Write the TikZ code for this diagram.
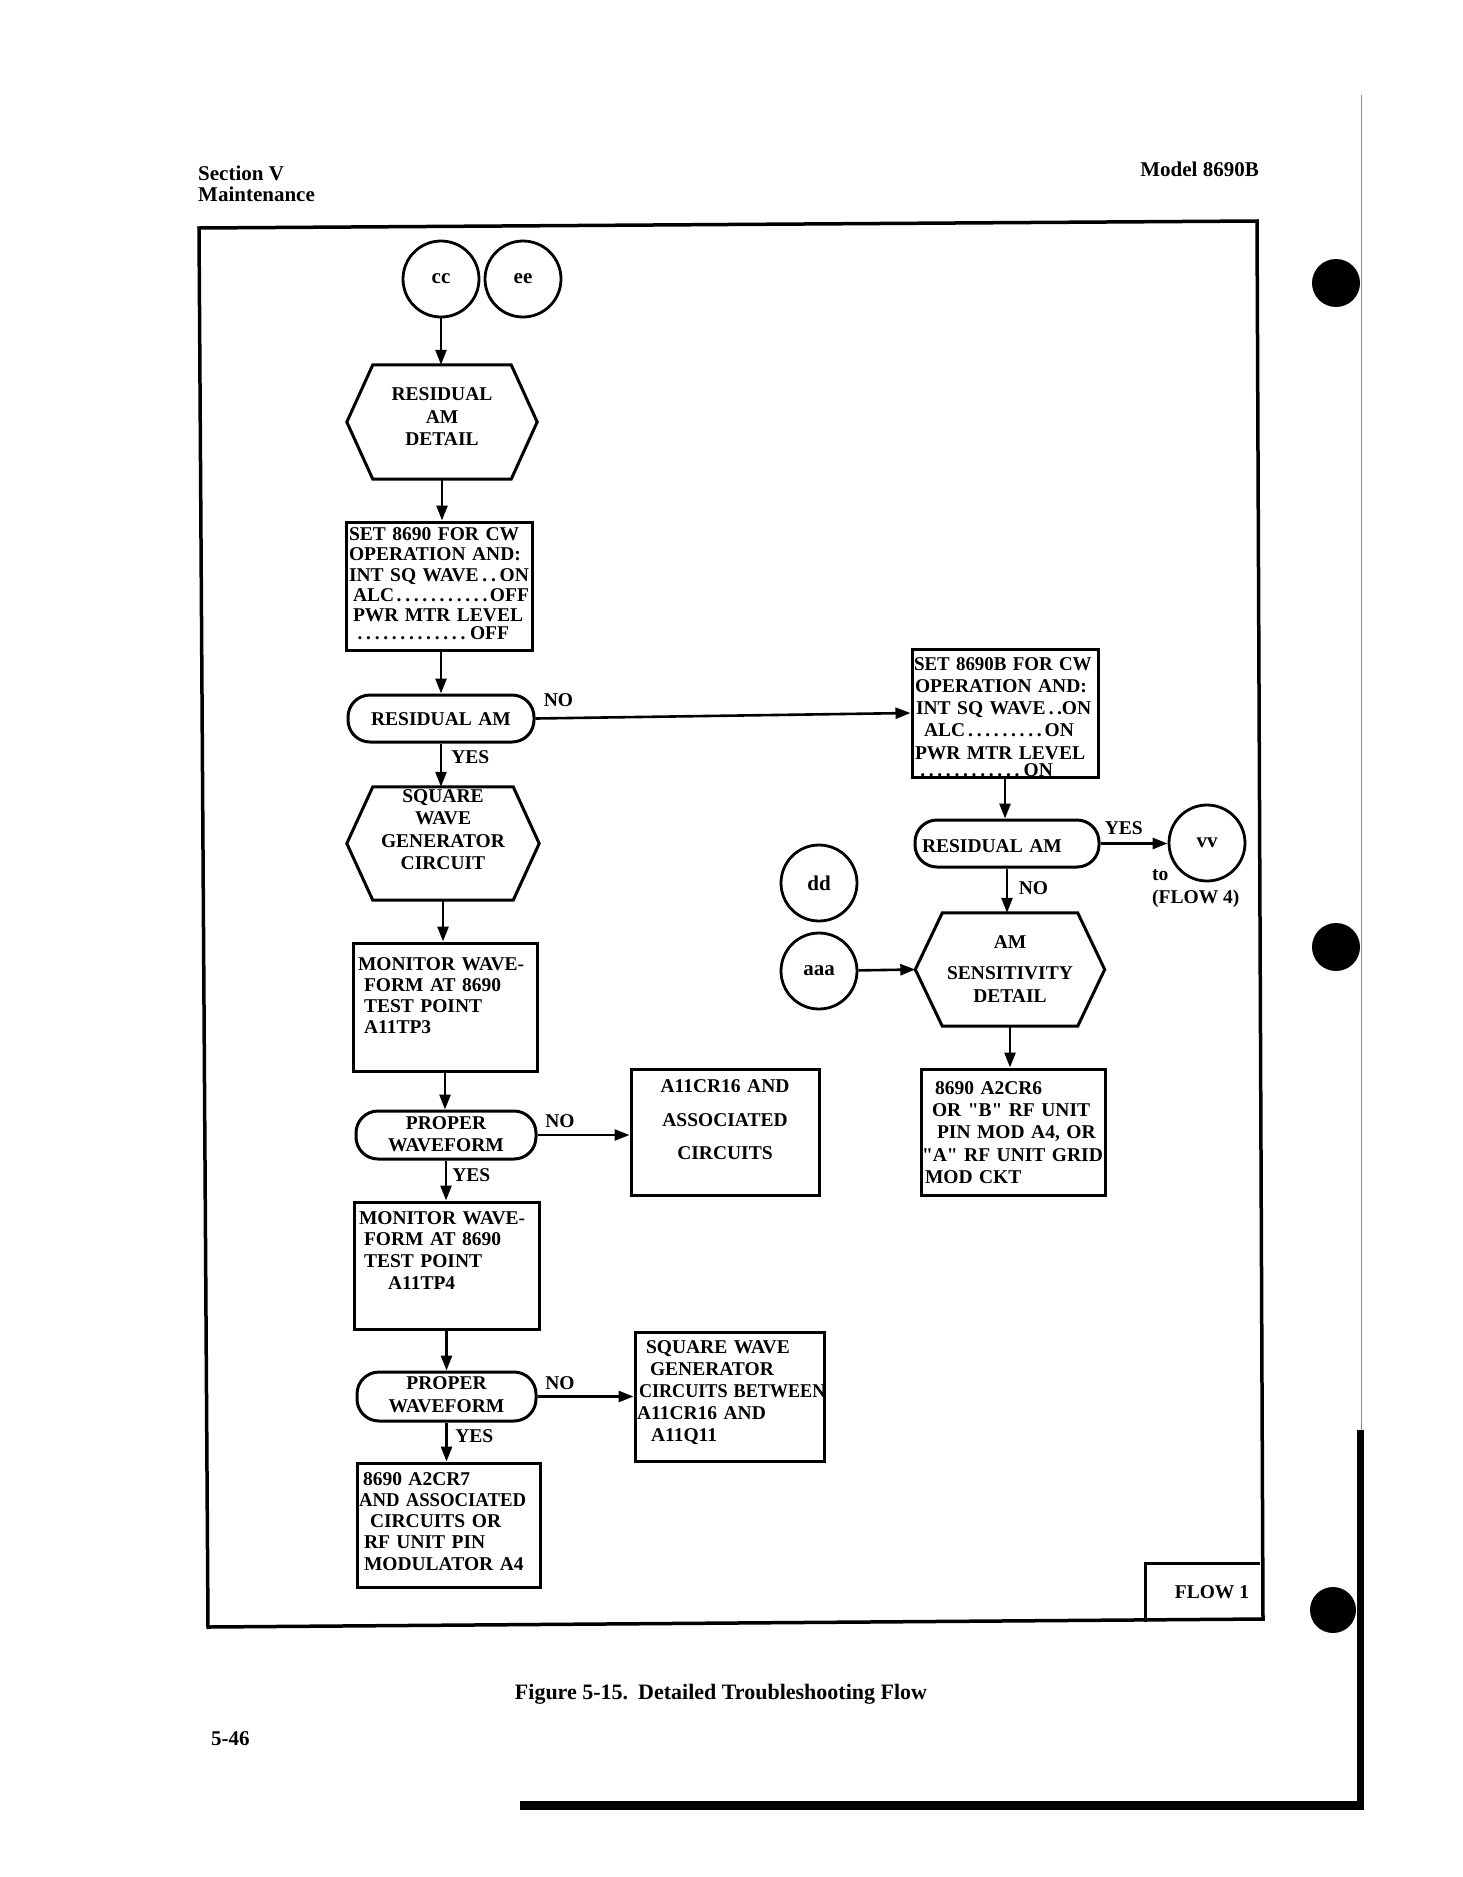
\documentclass[tikz,border=0pt]{standalone}
\usepackage{fontspec}
\setmainfont{Liberation Serif}[Ligatures=TeXOff]
\usepackage{graphicx}
\usetikzlibrary{arrows.meta}
\newcommand\dotsfill{\leavevmode\cleaders\hbox to .44em{\hss.\hss}\hskip0pt plus 1fill\relax}
\newcommand\sqz[2]{\mbox{\scalebox{#1}[1]{#2}}}
\newcommand\hexo[2]{\draw[line width=3pt] ([xshift=#2pt]#1.north west) -- ([xshift=-#2pt]#1.north east) -- (#1.east) -- ([xshift=-#2pt]#1.south east) -- ([xshift=#2pt]#1.south west) -- (#1.west) -- cycle;}
\hyphenpenalty=10000
\begin{document}
\begin{tikzpicture}[x=1pt,y=-1pt,
  fs/.style={font=\bfseries\fontsize{19.5}{#1}\selectfont},
  fs/.default=21,
  base/.style={inner sep=0pt, fs},
  bx/.style={base, draw, line width=3pt, rectangle, align=left},
  hx/.style={base, rectangle, align=center},
  tm/.style={base, draw, line width=3pt, rectangle, rounded corners=22pt, align=center},
  circ/.style={inner sep=0pt, font=\bfseries\fontsize{21}{24}\selectfont, draw, circle, line width=2.8pt, minimum size=76pt},
  geom/.style n args={4}{text width=#1pt, inner xsep=#2pt, text height=#3pt, text depth=#4pt},
  arr/.style={line width=2.6pt, -{Triangle[length=15pt,width=11pt]}},
  lab/.style={base, anchor=base west},
  hdr/.style={inner sep=0pt, font=\bfseries\fontsize{21}{24}\selectfont},
]
\useasboundingbox (0,0) rectangle (1463,1877);

% page frame and scan marks
\draw[line width=3.5pt] (199,228) -- (1257,221) -- (1263,1619) -- (208,1627) -- cycle;
\draw[line width=3pt] (1145,1622) -- (1145,1563) -- (1260,1563);
\fill (1336,283) circle[radius=24pt];
\fill (1336,947) circle[radius=24pt];
\fill (1333,1610) circle[radius=23pt];
\draw[line width=1pt, black!45] (1361,95) -- (1361,1430);
\draw[line width=7pt] (1360,1430) -- (1360,1810);
\draw[line width=9pt] (520,1805) -- (1363,1805);

% header / footer
\node[hdr, anchor=base west] (sec) at (198,180) {Section V};
\node[hdr, anchor=base west] (mnt) at (198,201) {Maintenance};
\node[hdr, anchor=base east] (mdl) at (1259,176) {Model 8690B};
\node[hdr, font=\bfseries\fontsize{22}{24}\selectfont, anchor=base] (cap) at (721,1699) {Figure 5-15.\hspace{10pt}Detailed Troubleshooting Flow};
\node[hdr, anchor=base west] (pg) at (211,1745) {5-46};
\node[base] (flow) at (1212,1592) {FLOW 1};

% left column
\node[circ] (cc) at (441,279) {cc};
\node[circ] (ee) at (523,279) {ee};
\node[hx, fs=22.7, geom={190}{0}{35.5}{78.5}] (h1) at (442,422) {RESIDUAL\\AM\\DETAIL};
\hexo{h1}{26}
\node[bx, fs=20.3, geom={180}{3}{18.5}{109.5}] (b1) at (439,586) {SET 8690 FOR CW\\
OPERATION AND:\\
INT SQ WAVE\dotsfill ON\mbox{}\\
\hspace*{4pt}ALC\dotsfill OFF\mbox{}\\
\hspace*{4pt}PWR MTR LEVEL\\[-3pt]
\hspace*{4pt}\dotsfill OFF\hspace*{20pt}\mbox{}};
\node[tm, geom={186}{0}{30}{17}] (t1) at (441,718.5) {RESIDUAL AM};
\node[hx, fs=22.3, geom={192}{0}{15.5}{97.5}] (h2) at (443,843.5) {SQUARE\\WAVE\\GENERATOR\\CIRCUIT};
\hexo{h2}{26}
\node[bx, fs=21, geom={174}{5}{27}{101}] (m3) at (445,1007) {MONITOR WAVE-\\
\hspace*{6pt}FORM AT 8690\\
\hspace*{6pt}TEST POINT\\
\hspace*{6pt}A11TP3};
\node[tm, fs=21.5, geom={180}{0}{18.5}{29.5}] (t2) at (446,1135) {PROPER\\WAVEFORM};
\node[bx, align=center, fs=33.5, geom={188}{0}{23.5}{102.5}] (c16) at (725,1132) {A11CR16 AND\\ASSOCIATED\\CIRCUITS};
\node[bx, fs=21.7, geom={175}{5}{22}{105}] (m4) at (446.5,1265.5) {MONITOR WAVE-\\
\hspace*{5pt}FORM AT 8690\\
\hspace*{5pt}TEST POINT\\
\hspace*{29pt}A11TP4};
\node[tm, fs=23, geom={179}{0}{17}{32}] (t3) at (446.5,1396.5) {PROPER\\WAVEFORM};
\node[bx, fs=22.2, geom={185}{2}{21}{108}] (sq) at (729.5,1396.5) {\hspace*{9pt}SQUARE WAVE\\
\hspace*{13pt}GENERATOR\\
\hspace*{2pt}\sqz{0.93}{CIRCUITS BETWEEN}\\
A11CR16 AND\\
\hspace*{14pt}A11Q11};
\node[bx, fs=21.3, geom={179}{2}{22}{102}] (a7) at (448.5,1525) {\hspace*{4pt}8690 A2CR7\\
\sqz{0.96}{AND ASSOCIATED}\\
\hspace*{11pt}CIRCUITS OR\\
\hspace*{5pt}RF UNIT PIN\\
\hspace*{5pt}MODULATOR A4};

% right column
\node[bx, fs=22.3, geom={182}{2}{21}{107}] (b2) at (1005,713) {\sqz{0.97}{SET 8690B FOR CW}\\
\hspace*{1pt}OPERATION AND:\\
\hspace*{2pt}INT SQ WAVE\,.\,.ON\\
\hspace*{10pt}ALC\dotsfill ON\hspace*{22pt}\mbox{}\\
\hspace*{1pt}PWR MTR LEVEL\\[-5pt]
\hspace*{2pt}\dotsfill ON\hspace*{43pt}\mbox{}};
\node[tm, align=left, geom={170}{7}{32}{15}] (t4) at (1007,843.5) {RESIDUAL AM};
\node[circ] (vv) at (1207,843) {vv};
\node[base, anchor=base west] (to) at (1152,880) {to};
\node[base, anchor=base west] (fl4) at (1152,903) {(FLOW 4)};
\node[hx, fs=23, geom={189}{0}{35.5}{77.5}] (h3) at (1010,969.5) {AM\\[8pt]SENSITIVITY\\DETAIL};
\hexo{h3}{27}
\node[circ] (dd) at (819,883) {dd};
\node[circ] (aaa) at (819,971) {aaa};
\node[bx, fs=22.1, geom={182}{1}{25.7}{100.3}] (a6) at (1013,1132) {\hspace*{13pt}8690 A2CR6\\
\hspace*{10pt}OR "B" RF UNIT\\
\hspace*{15pt}PIN MOD A4, OR\\
"A" RF UNIT GRID\\
\hspace*{3pt}MOD CKT};

% connectors
\draw[arr] (cc.south) -- (cc.south |- h1.north);
\draw[arr] (h1.south) -- (h1.south |- b1.north);
\draw[arr] (t1.north |- b1.south) -- (t1.north);
\draw[arr] (t1.south) -- node[lab, pos=0, xshift=9pt, yshift=-19.5pt] (y1) {YES} (t1.south |- h2.north);
\draw[arr] (h2.south) -- (h2.south |- m3.north);
\draw[arr] (m3.south) -- (m3.south |- t2.north);
\draw[arr] (t2.east) -- node[lab, pos=0, xshift=6.5pt, yshift=7.5pt] (n2) {NO} (t2.east -| c16.west);
\draw[arr] (t2.south) -- node[lab, pos=0, xshift=5pt, yshift=-20.5pt] (y2) {YES} (t2.south |- m4.north);
\draw[arr] (m4.south) -- (m4.south |- t3.north);
\draw[arr] (t3.east) -- node[lab, pos=0, xshift=6.5pt, yshift=7pt] (n3) {NO} (t3.east -| sq.west);
\draw[arr] (t3.south) -- node[lab, pos=0, xshift=7.5pt, yshift=-19.5pt] (y3) {YES} (t3.south |- a7.north);
\draw[arr] (t1.east) -- node[lab, pos=0, xshift=7pt, yshift=12pt] (n1) {NO} (b2.west);
\draw[arr] (b2.south) -- (b2.south |- t4.north);
\draw[arr] (t4.east) -- node[lab, pos=0, xshift=3pt, yshift=9pt] (y4) {YES} (t4.east -| vv.west);
\draw[arr] (t4.south) -- node[lab, pos=0, xshift=10.5pt, yshift=-25.5pt] (n4) {NO} (t4.south |- h3.north);
\draw[arr] (aaa) -- (h3.west);
\draw[arr] (h3.south) -- (h3.south |- a6.north);
\end{tikzpicture}
\end{document}
